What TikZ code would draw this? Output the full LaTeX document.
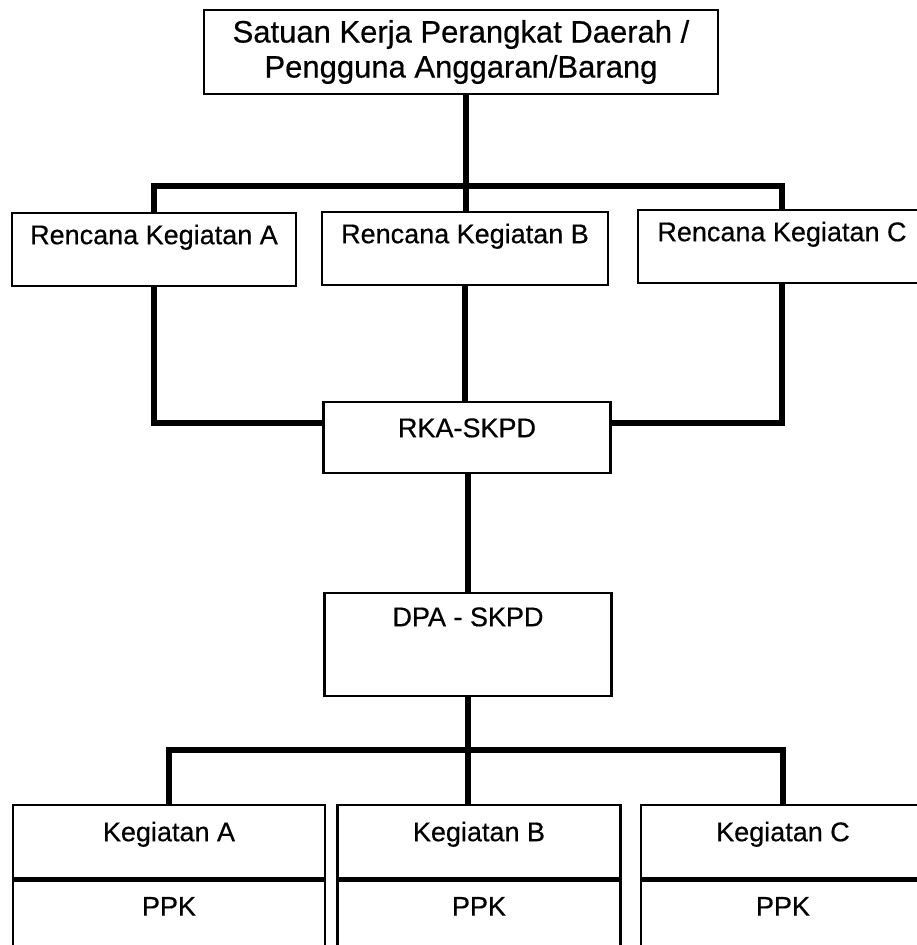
\documentclass[tikz,border=0pt]{standalone}
\usepackage{fontspec}
\setmainfont{Liberation Sans}[FakeBold=0.5]
\usetikzlibrary{positioning}
\begin{document}
\begin{tikzpicture}[x=1pt, y=-1pt, every node/.style = {shape=rectangle, draw, align=center, inner sep=0pt, line width=0.85mm,
font=\fontsize{27}{32}\selectfont}, link/.style = {line width=2mm}]
	\tikzstyle{head} = [minimum width=514pt, minimum height=84pt, font=\fontsize{31}{35}\selectfont]
	\tikzstyle{rk} = [anchor=north, minimum width=286pt, text height=31pt, text depth=42pt]
	\tikzstyle{mid} = [anchor=north, minimum width=287pt]
	\tikzstyle{keg} = [anchor=north, text height=36pt, text depth=37pt]
	\tikzstyle{ppk} = [text height=35pt, text depth=50pt]
	\useasboundingbox (0,0) rectangle (917,945);
	\node[head] (skpd) at (461,52) {Satuan Kerja Perangkat Daerah /\\ Pengguna Anggaran/Barang};
	\node[rk, minimum width=284pt] (rkA) at (154,212) {Rencana Kegiatan A};
	\node[rk] (rkB) at (465,211) {Rencana Kegiatan B};
	\node[rk, minimum width=288pt] (rkC) at (782,209) {Rencana Kegiatan C};
	\node[mid, text height=35pt, text depth=36pt] (rka) at (467,401) {RKA-SKPD};
	\node[mid, text height=33pt, text depth=70pt] (dpa) at (468,592) {DPA - SKPD};
	\node[keg, minimum width=312pt] (kgA) at (169,804) {Kegiatan A};
	\node[keg, minimum width=283pt] (kgB) at (479,804) {Kegiatan B};
	\node[keg, minimum width=284pt] (kgC) at (783,804) {Kegiatan C};
	\node[ppk, minimum width=312pt, below=0pt of kgA] (ppkA) {PPK};
	\node[ppk, minimum width=283pt, below=0pt of kgB] (ppkB) {PPK};
	\node[ppk, minimum width=284pt, below=0pt of kgC] (ppkC) {PPK};
	\coordinate (j1) at (466,186);
	\coordinate (j2) at (0,423);
	\coordinate (j3) at (468,750);
	\draw[link] (skpd.south -| j1) -- (j1);
	\draw[link] (rkA.north) |- (j1) -| (rkC.north);
	\draw[link] (j1) -- (j1 |- rkB.north);
	\draw[link] (rkA.south) |- (rka.west |- j2);
	\draw[link] (rkC.south) |- (rka.east |- j2);
	\draw[link] (rkB.south) -- (rkB.south |- rka.north);
	\draw[link] (dpa.north |- rka.south) -- (dpa.north);
	\draw[link] (dpa.south) -- (j3);
	\draw[link] (kgA.north) |- (j3) -| (kgC.north);
	\draw[link] (j3) -- (j3 |- kgB.north);
\end{tikzpicture}
\end{document}
